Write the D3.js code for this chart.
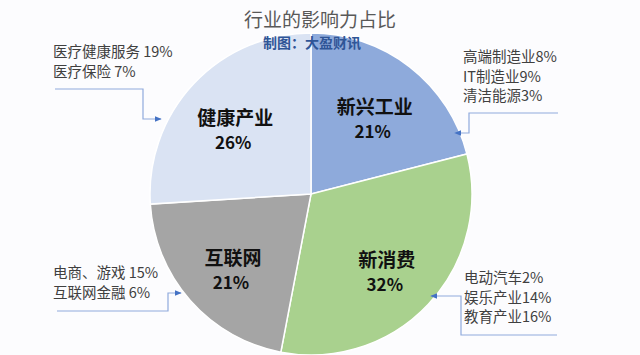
<!DOCTYPE html>
<html>
<head>
<meta charset="utf-8">
<script src="https://cdn.jsdelivr.net/npm/d3@7"></script>
<style>
  body { margin: 0; background: #fcfcfe; }
  text { font-family: "Noto Sans CJK SC", "Noto Sans", sans-serif; }
</style>
</head>
<body>
<div id="chart"></div>
<script>
// sectors, clockwise from 12 o'clock
var sectors = ["新兴工业", "新消费", "互联网", "健康产业"];
var shares = [21, 32, 21, 26];
var colors = ["#8eaadb", "#a9d18e", "#a5a5a5", "#dae3f3"];

// breakdown notes beside the pie
var notes = [
  ["高端制造业8%", "IT制造业9%", "清洁能源3%"],
  ["电动汽车2%", "娱乐产业14%", "教育产业16%"],
  ["电商、游戏 15%", "互联网金融 6%"],
  ["医疗健康服务 19%", "医疗保险 7%"]
];

var W = 640, H = 355;
var cx = 311, cy = 194, r = 161;

var svg = d3.select("#chart").append("svg")
  .attr("width", W).attr("height", H);

svg.append("defs").append("marker")
  .attr("id", "arr")
  .attr("viewBox", "0 0 10 10")
  .attr("refX", 9).attr("refY", 5)
  .attr("markerWidth", 6).attr("markerHeight", 6)
  .attr("orient", "auto")
  .append("path").attr("d", "M0,1 L10,5 L0,9 z").attr("fill", "#4472c4");

var pie = d3.pie().sort(null).value(function(d) { return d; });
var arc = d3.arc().innerRadius(0).outerRadius(r);
var arcs = pie(shares);

var g = svg.append("g").attr("transform", "translate(" + cx + "," + cy + ")");

g.selectAll("path.slice")
  .data(arcs)
  .enter().append("path")
  .attr("class", "slice")
  .attr("d", arc)
  .attr("fill", function(d, i) { return colors[i]; })
  .attr("stroke", "#fff")
  .attr("stroke-width", 1.5);

// labels sit further out than the plain centroid
var labelArc = d3.arc().innerRadius(104).outerRadius(104);
arcs.forEach(function(d, i) {
  var c = labelArc.centroid(d);
  var lab = g.append("text")
    .attr("text-anchor", "middle")
    .attr("font-weight", "bold")
    .attr("fill", "#111");
  lab.append("tspan").attr("x", c[0]).attr("y", c[1] + 2)
    .attr("font-size", 19).text(sectors[i]);
  lab.append("tspan").attr("x", c[0] - 2).attr("y", c[1] + 26)
    .attr("font-size", 17).text(shares[i] + "%");
});

// title
svg.append("text").attr("x", 320).attr("y", 27)
  .attr("text-anchor", "middle").attr("font-size", 19)
  .attr("fill", "#595959").text("行业的影响力占比");
svg.append("text").attr("x", 312).attr("y", 48)
  .attr("text-anchor", "middle").attr("font-size", 14)
  .attr("font-weight", "bold")
  .attr("fill", "#2f5597").text("制图：大盈财讯");

// notes: text block start, line points
var noteLayout = [
  { x: 463, y: 62, pts: [[558, 113], [469, 113], [469, 133], [455, 133]] },
  { x: 464, y: 283, pts: [[557, 335], [461, 335], [461, 296], [431, 296]] },
  { x: 53, y: 278, pts: [[57, 311], [168, 311], [168, 293], [181, 293]] },
  { x: 53, y: 57, pts: [[55, 89], [143, 89], [143, 119], [161, 119]] }
];

var line = d3.line();
noteLayout.forEach(function(n, i) {
  var t = svg.append("text").attr("font-size", 14.5).attr("fill", "#404040");
  notes[i].forEach(function(s, j) {
    t.append("tspan").attr("x", n.x).attr("y", n.y + j * 19.5).text(s);
  });
  svg.append("path")
    .attr("d", line(n.pts))
    .attr("fill", "none")
    .attr("stroke", "#8faadc")
    .attr("stroke-width", 1.2)
    .attr("marker-end", "url(#arr)");
});
</script>
</body>
</html>
